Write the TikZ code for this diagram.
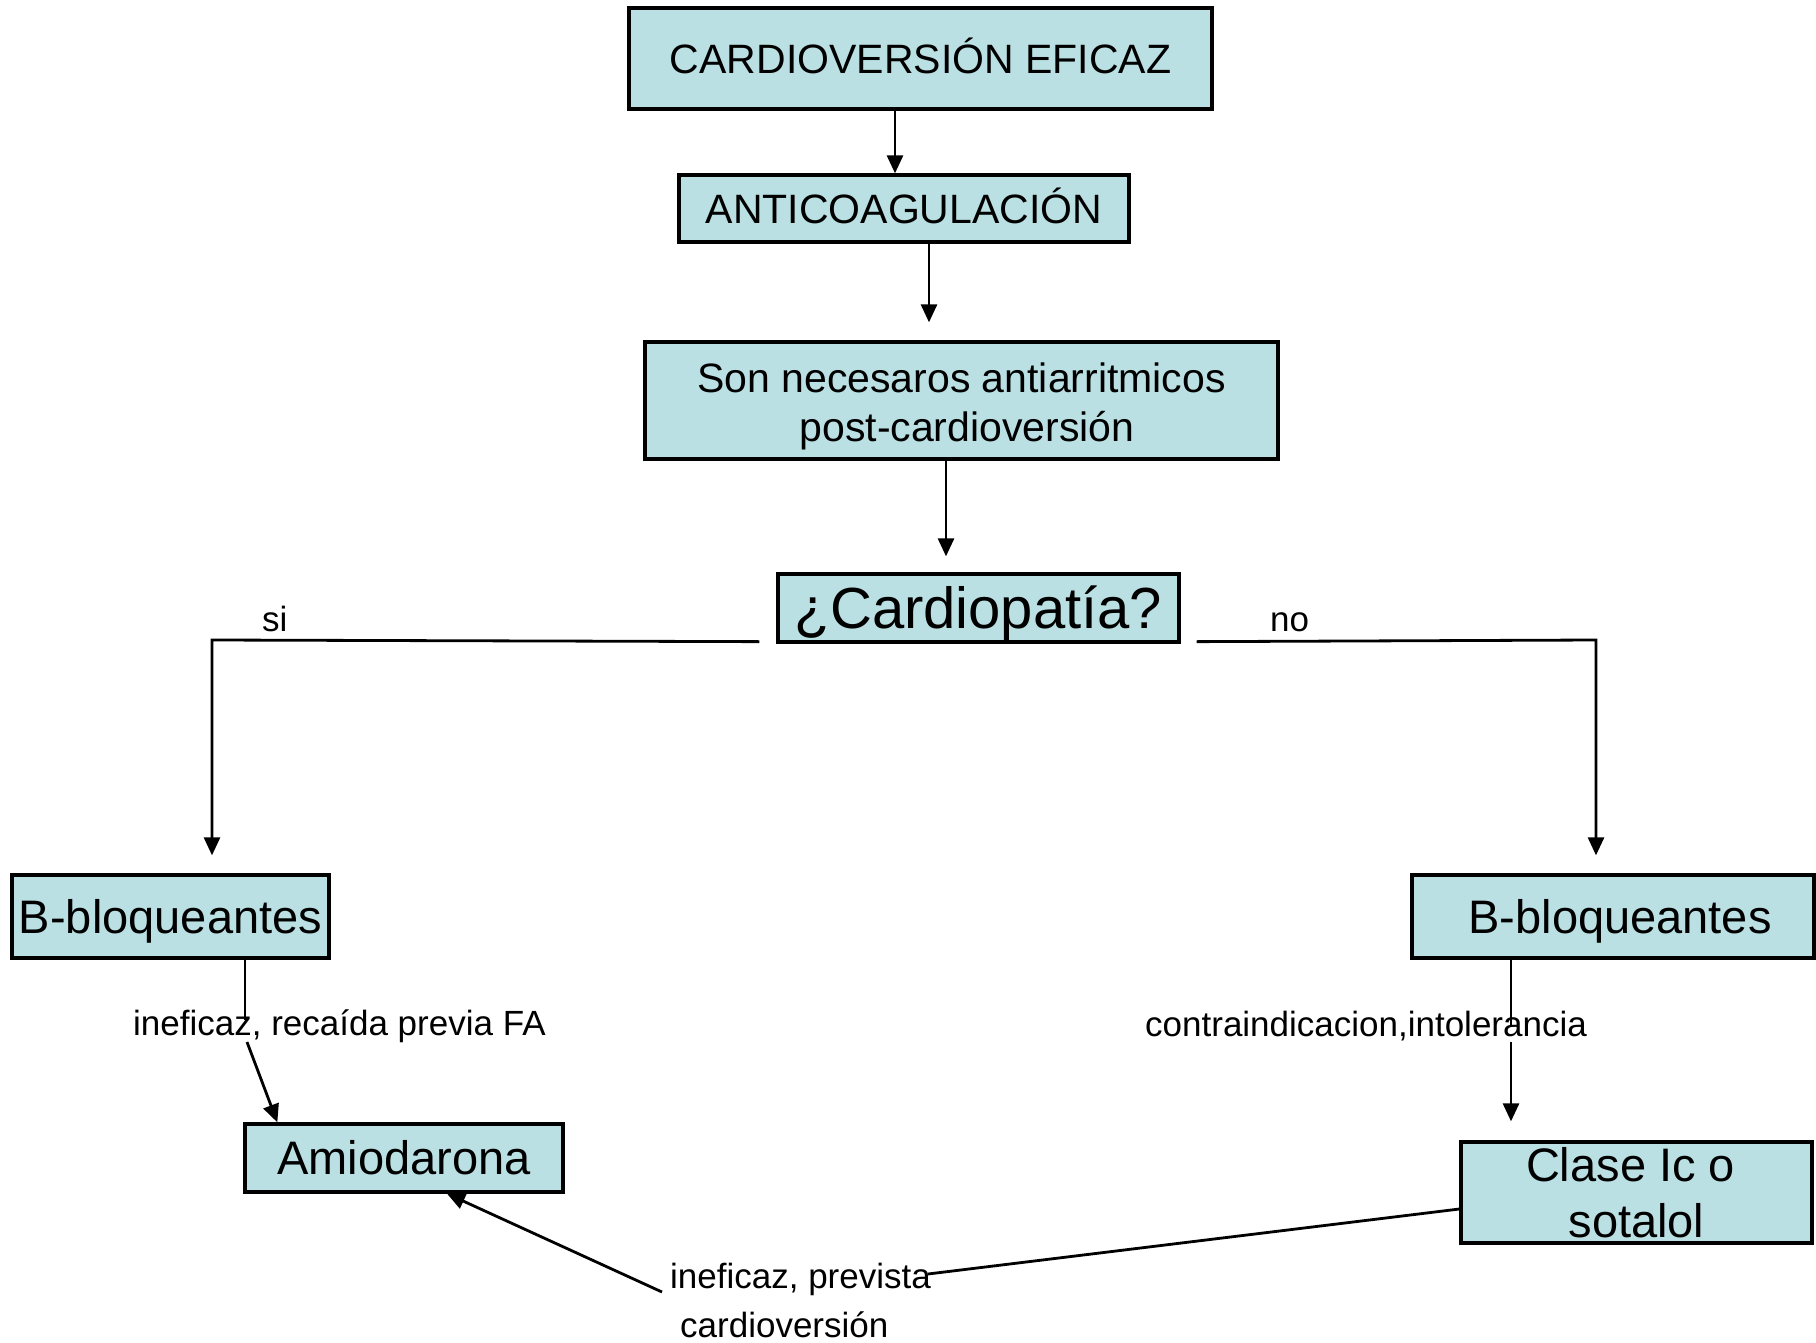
\documentclass[tikz,border=0pt]{standalone}
\usepackage{fontspec}
\setmainfont{Liberation Sans}
\usetikzlibrary{arrows.meta,calc}
\definecolor{boxfill}{RGB}{186,224,227}
\begin{document}
\begin{tikzpicture}[x=1pt,y=-1pt,
  box/.style={draw=black,fill=boxfill,line width=3.3pt,inner sep=0pt,align=center},
  link/.style={line width=2.8pt},
  arr/.style={link,-{Triangle[length=18pt,width=16pt]}},
  lbl/.style={font=\fontsize{35}{42}\selectfont,inner sep=0pt}]
\useasboundingbox (0,0) rectangle (1816,1343);

% boxes (single-line ones keep their capitals centred)
\node[box,text height=29.4pt,text depth=0pt,minimum width=583pt,minimum height=101pt,font=\fontsize{41}{49}\selectfont]
  (eficaz) at (920.5,58.5) {CARDIOVERSIÓN EFICAZ};
\node[box,text height=29.4pt,text depth=0pt,minimum width=450pt,minimum height=67pt,font=\fontsize{41}{49}\selectfont]
  (antico) at (904,208.5) {ANTICOAGULACIÓN};
\node[box,minimum width=633pt,minimum height=117pt,font=\fontsize{41}{49}\selectfont]
  (necesarios) at (961.5,400.5) {\rule{0pt}{42pt}Son necesaros antiarritmicos\\\hspace*{11pt}post-cardioversión};
\node[box,text height=41.5pt,text depth=0pt,minimum width=401pt,minimum height=68pt,font=\fontsize{58}{70}\selectfont]
  (cardio) at (978.5,608) {¿Cardiopatía?};
\node[box,text height=33.7pt,text depth=0pt,minimum width=317pt,minimum height=83pt,font=\fontsize{47}{56}\selectfont]
  (bloqL) at (170.5,916.5) {B-bloqueantes};
\node[box,text height=33.7pt,text depth=0pt,minimum width=402pt,minimum height=83pt,font=\fontsize{47}{56}\selectfont]
  (bloqR) at (1613,916.5) {\hspace*{14pt}B-bloqueantes};
\node[box,text height=33.7pt,text depth=0pt,minimum width=318pt,minimum height=68pt,font=\fontsize{47}{56}\selectfont]
  (amio) at (404,1158) {Amiodarona};
\node[box,minimum width=351pt,minimum height=101pt,font=\fontsize{47}{56}\selectfont]
  (clase) at (1636.5,1192.5) {Clase Ic o\hspace*{12pt}\\sotalol};

% labels
\node[lbl,anchor=base west] (si) at (262,631) {si};
\node[lbl,anchor=base west] (no) at (1270,631) {no};
\node[lbl,anchor=base west] (recaida) at (133,1035) {ineficaz, recaída previa FA};
\node[lbl,anchor=base west] (contra) at (1145,1036) {contraindicacion,intolerancia};
\node[lbl,anchor=base west] (prevA) at (670,1288) {ineficaz, prevista};
\node[lbl,anchor=base west] (prevB) at (680,1337) {cardioversión};

% connector bends and breaks
\coordinate (x1) at (895,0);
\coordinate (x2) at (929,0);
\coordinate (x3) at (946,0);
\coordinate (sidrop) at (212,640);
\coordinate (nodrop) at (1596,640);
\coordinate (lstop) at (245,1020);
\coordinate (lgo) at (247,1042);
\coordinate (rstop) at (1511,1027);
\coordinate (rgo) at (1511,1042);
\coordinate (bstop) at (928,1274);
\coordinate (bgo) at (662,1292);

% connectors
\draw[arr] (eficaz.south -| x1) -- (antico.north -| x1);
\draw[arr,shorten >=18pt] (antico.south -| x2) -- (necesarios.north -| x2);
\draw[arr,shorten >=16pt] (necesarios.south -| x3) -- (cardio.north -| x3);
\draw[arr,shorten >=18pt] ($(cardio.south west)+(-17,-2)$) -- (sidrop) -- (bloqL.north -| sidrop);
\draw[arr,shorten >=18pt] ($(cardio.south east)+(16,-2)$) -- (nodrop) -- (bloqR.north -| nodrop);
\draw[link] (bloqL.south -| lstop) -- (lstop);
\draw[arr] (lgo) -- ($(amio.north west)+(34,0)$);
\draw[link] (bloqR.south -| rstop) -- (rstop);
\draw[arr,shorten >=19pt] (rgo) -- (clase.north -| rgo);
\draw[link] ($(clase.west)+(0,16.5)$) -- (bstop);
\draw[arr] (bgo) -- ($(amio.south)+(43,0)$);
\end{tikzpicture}
\end{document}
